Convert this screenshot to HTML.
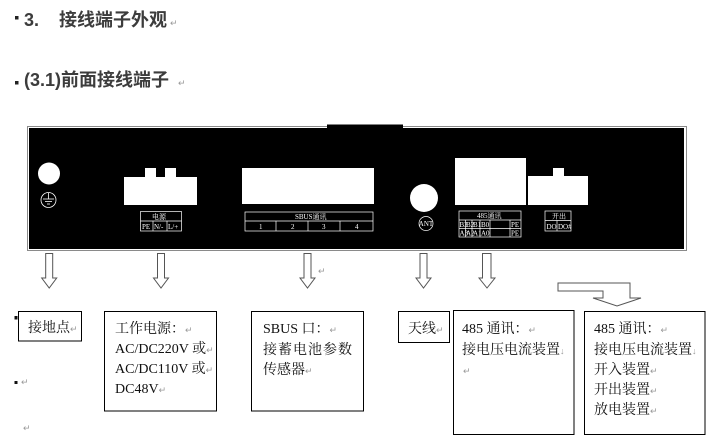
<!DOCTYPE html>
<html>
<head>
<meta charset="utf-8">
<style>
  html,body{margin:0;padding:0;background:#fff;}
  body{width:708px;height:442px;overflow:hidden;position:relative;}
  svg{position:absolute;left:0;top:0;}
  .t{font-family:"Liberation Sans","Noto Sans CJK SC",sans-serif;font-weight:bold;fill:#3c3c3c;}
  .b{font-family:"Liberation Serif","Noto Serif CJK SC",serif;fill:#111;font-size:14px;}
  .r{font-family:"Liberation Serif","Noto Serif CJK SC",serif;fill:#999;font-size:9px;}
  .w{font-family:"Liberation Serif","Noto Serif CJK SC",serif;fill:#fff;font-size:7px;}
</style>
</head>
<body>
<svg width="708" height="442" viewBox="0 0 708 442" xmlns="http://www.w3.org/2000/svg">
  <!-- Titles -->
  <rect x="15" y="16" width="3.5" height="3.5" fill="#222"/>
  <text class="t" x="24" y="26" font-size="18">3.</text>
  <text class="t" x="59" y="26" font-size="18">接线端子外观</text>
  <text class="r" x="170" y="26">↵</text>

  <rect x="15" y="81" width="3.5" height="3.5" fill="#222"/>
  <text class="t" x="24" y="86" font-size="18">(3.1)前面接线端子</text>
  <text class="r" x="178" y="86">↵</text>

  <!-- Panel -->
  <rect x="27.5" y="126.5" width="659" height="124" fill="none" stroke="#8a8a8a" stroke-width="1"/>
  <rect x="29" y="128" width="655" height="121" fill="#000"/>
  <rect x="327" y="124.5" width="76" height="4" fill="#000"/>

  <!-- Ground -->
  <circle cx="49" cy="173.5" r="11" fill="#fff"/>
  <circle cx="48.5" cy="200" r="7.5" fill="none" stroke="#fff" stroke-width="0.8"/>
  <line x1="48.5" y1="193" x2="48.5" y2="199" stroke="#fff" stroke-width="0.8"/>
  <line x1="43" y1="199" x2="54" y2="199" stroke="#fff" stroke-width="0.8"/>
  <line x1="45" y1="201.5" x2="52" y2="201.5" stroke="#fff" stroke-width="0.8"/>
  <line x1="47" y1="204" x2="50" y2="204" stroke="#fff" stroke-width="0.8"/>

  <!-- Power connector -->
  <path d="M124 177 H145 V168 H156 V177 H165 V168 H176 V177 H197 V205 H124 Z" fill="#fff"/>
  <g stroke="#fff" stroke-width="0.7" fill="none">
    <rect x="140.5" y="211.5" width="41" height="19.5"/>
    <line x1="140.5" y1="221" x2="181.5" y2="221"/>
    <line x1="153" y1="221" x2="153" y2="231"/>
    <line x1="167" y1="221" x2="167" y2="231"/>
  </g>
  <text class="w" x="152" y="219">电源</text>
  <text class="w" x="142" y="229">PE</text>
  <text class="w" x="154" y="229">N/-</text>
  <text class="w" x="168" y="229">L/+</text>

  <!-- SBUS -->
  <rect x="242" y="168" width="132" height="36" fill="#fff"/>
  <g stroke="#fff" stroke-width="0.7" fill="none">
    <rect x="245" y="212" width="128" height="19"/>
    <line x1="245" y1="221" x2="373" y2="221"/>
    <line x1="276" y1="221" x2="276" y2="231"/>
    <line x1="308" y1="221" x2="308" y2="231"/>
    <line x1="340" y1="221" x2="340" y2="231"/>
  </g>
  <text class="w" x="295" y="219">SBUS通讯</text>
  <text class="w" x="259" y="229">1</text>
  <text class="w" x="291" y="229">2</text>
  <text class="w" x="322" y="229">3</text>
  <text class="w" x="355" y="229">4</text>

  <!-- ANT -->
  <circle cx="424" cy="198" r="14" fill="#fff"/>
  <circle cx="426" cy="223.5" r="7" fill="none" stroke="#fff" stroke-width="0.7"/>
  <text class="w" x="426" y="226" font-size="5.5" text-anchor="middle">ANT</text>

  <!-- 485 -->
  <rect x="455" y="158" width="71" height="47" fill="#fff"/>
  <g stroke="#fff" stroke-width="0.7" fill="none">
    <rect x="459" y="211" width="62" height="26"/>
    <line x1="459" y1="220" x2="521" y2="220"/>
    <line x1="459" y1="228.5" x2="521" y2="228.5"/>
    <line x1="465.5" y1="220" x2="465.5" y2="237"/>
    <line x1="472" y1="220" x2="472" y2="237"/>
    <line x1="480" y1="220" x2="480" y2="237"/>
    <line x1="490" y1="220" x2="490" y2="237"/>
    <line x1="510" y1="220" x2="510" y2="237"/>
  </g>
  <text class="w" x="477" y="218">485通讯</text>
  <text class="w" x="459.5" y="227" font-size="6">B3</text>
  <text class="w" x="466" y="227" font-size="6">B2</text>
  <text class="w" x="473" y="227" font-size="6">B1</text>
  <text class="w" x="481" y="227" font-size="6">B0</text>
  <text class="w" x="511" y="227" font-size="6">PE</text>
  <text class="w" x="459.5" y="235.5" font-size="6">A3</text>
  <text class="w" x="466" y="235.5" font-size="6">A2</text>
  <text class="w" x="473" y="235.5" font-size="6">A1</text>
  <text class="w" x="481" y="235.5" font-size="6">A0</text>
  <text class="w" x="511" y="235.5" font-size="6">PE</text>

  <!-- 开出 -->
  <path d="M528 176 H553 V168 H564 V176 H588 V205 H528 Z" fill="#fff"/>
  <g stroke="#fff" stroke-width="0.7" fill="none">
    <rect x="545" y="211" width="26" height="20"/>
    <line x1="545" y1="220.5" x2="571" y2="220.5"/>
    <line x1="557" y1="220.5" x2="557" y2="231"/>
  </g>
  <text class="w" x="552" y="218.5">开出</text>
  <text class="w" x="546.5" y="229" font-size="6">DO</text>
  <text class="w" x="558" y="229" font-size="6">DO#</text>

  <!-- Down arrows -->
  <g fill="#fff" stroke="#555" stroke-width="1">
    <path d="M45.7 253.5 H52.7 V278 H56.7 L49.2 288 L41.7 278 H45.7 Z"/>
    <path d="M157.5 253.5 H164.5 V278 H168.5 L161 288 L153.5 278 H157.5 Z"/>
    <path d="M304 253.5 H311 V278 H315 L307.5 288 L300 278 H304 Z"/>
    <path d="M420 253.5 H427 V278 H431 L423.5 288 L416 278 H420 Z"/>
    <path d="M482.5 253.5 H491 V278 H495 L487 288 L479 278 H482.5 Z"/>
    <path d="M558 283 H630 V298 H641 L617 306 L593 298 H603 V291 H558 Z"/>
  </g>
  <text class="r" x="318" y="274">↵</text>

  <!-- Left bullets -->
  <rect x="14.5" y="316" width="3" height="3.5" fill="#111"/>
  <rect x="14.5" y="381" width="3" height="3" fill="#111"/>
  <text class="r" x="21" y="385">↵</text>
  <text class="r" x="23" y="431">↵</text>

  <!-- Boxes -->
  <g fill="none" stroke="#000" stroke-width="1">
    <rect x="18.5" y="311.5" width="63" height="29.5"/>
    <rect x="104.5" y="311.5" width="112" height="99.5"/>
    <rect x="251.5" y="311.5" width="112" height="99.5"/>
    <rect x="398.5" y="311.5" width="51" height="31"/>
    <rect x="453.5" y="310.5" width="120.5" height="124"/>
    <rect x="584.5" y="311.5" width="120.5" height="123"/>
  </g>

  <text class="b" x="28" y="332">接地点<tspan class="r" font-size="9" fill="#999">↵</tspan></text>

  <text class="b" x="115" y="333">工作电源：<tspan fill="#999" font-size="9">↵</tspan></text>
  <text class="b" x="115" y="353">AC/DC220V 或<tspan fill="#999" font-size="9">↵</tspan></text>
  <text class="b" x="115" y="373">AC/DC110V 或<tspan fill="#999" font-size="9">↵</tspan></text>
  <text class="b" x="115" y="393">DC48V<tspan fill="#999" font-size="9">↵</tspan></text>

  <text class="b" x="263" y="333">SBUS 口：<tspan fill="#999" font-size="9">↵</tspan></text>
  <text class="b" x="263" y="354" letter-spacing="1">接蓄电池参数</text>
  <text class="b" x="263" y="374">传感器<tspan fill="#999" font-size="9">↵</tspan></text>

  <text class="b" x="408" y="333">天线<tspan fill="#999" font-size="9">↵</tspan></text>

  <text class="b" x="462" y="333">485 通讯：<tspan fill="#999" font-size="9">↵</tspan></text>
  <text class="b" x="462" y="354">接电压电流装置<tspan fill="#999" font-size="9">↓</tspan></text>
  <text class="r" x="463" y="374">↵</text>

  <text class="b" x="594" y="333">485 通讯：<tspan fill="#999" font-size="9">↵</tspan></text>
  <text class="b" x="594" y="354">接电压电流装置<tspan fill="#999" font-size="9">↓</tspan></text>
  <text class="b" x="594" y="374">开入装置<tspan fill="#999" font-size="9">↵</tspan></text>
  <text class="b" x="594" y="394">开出装置<tspan fill="#999" font-size="9">↵</tspan></text>
  <text class="b" x="594" y="414">放电装置<tspan fill="#999" font-size="9">↵</tspan></text>
</svg>
</body>
</html>
